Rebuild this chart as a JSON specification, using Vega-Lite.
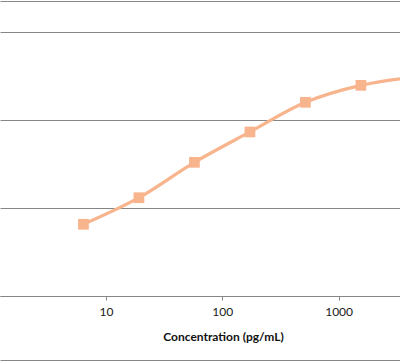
{
  "$schema": "https://vega.github.io/schema/vega-lite/v6.json",
  "width": 400,
  "height": 361,
  "padding": 0,
  "autosize": {"type": "none"},
  "background": "white",
  "data": {
    "values": [
      {"conc": 6.4, "value": 0.815},
      {"conc": 19.2, "value": 1.117},
      {"conc": 57.6, "value": 1.519},
      {"conc": 172.8, "value": 1.864},
      {"conc": 518.4, "value": 2.201},
      {"conc": 1555.2, "value": 2.394},
      {"conc": 4665.6, "value": 2.49}
    ]
  },
  "encoding": {
    "x": {
      "field": "conc",
      "type": "quantitative",
      "scale": {"type": "log", "domain": [1.2264, 3373], "nice": false},
      "axis": {
        "values": [10, 100, 1000],
        "format": "d",
        "grid": false,
        "offset": -65,
        "domainColor": "#868686",
        "tickColor": "#868686",
        "tickSize": 4,
        "labelFont": "Lato",
        "labelFontSize": 12,
        "labelColor": "#1a1a1a",
        "labelPadding": 6,
        "title": "Concentration (pg/mL)",
        "titleFont": "Lato",
        "titleFontSize": 12,
        "titleFontWeight": "bold",
        "titleColor": "#111111",
        "titleX": 223,
        "titleY": 44.5,
        "titleBaseline": "alphabetic",
        "titleAnchor": "middle"
      }
    },
    "y": {
      "field": "value",
      "type": "quantitative",
      "scale": {"domain": [-0.7386, 3.3636], "nice": false, "zero": false},
      "axis": {
        "values": [-0.727, 0, 1, 2, 3, 3.352],
        "grid": true,
        "gridColor": "#868686",
        "gridOpacity": 1,
        "labels": false,
        "ticks": false,
        "domain": false,
        "title": null
      }
    }
  },
  "layer": [
    {
      "mark": {"type": "line", "interpolate": "monotone", "color": "#F8B48C", "strokeWidth": 3.2, "clip": true}
    },
    {
      "mark": {"type": "point", "shape": "square", "filled": true, "size": 115, "color": "#F8B48C", "opacity": 1, "clip": true}
    }
  ],
  "config": {"view": {"stroke": null}}
}
